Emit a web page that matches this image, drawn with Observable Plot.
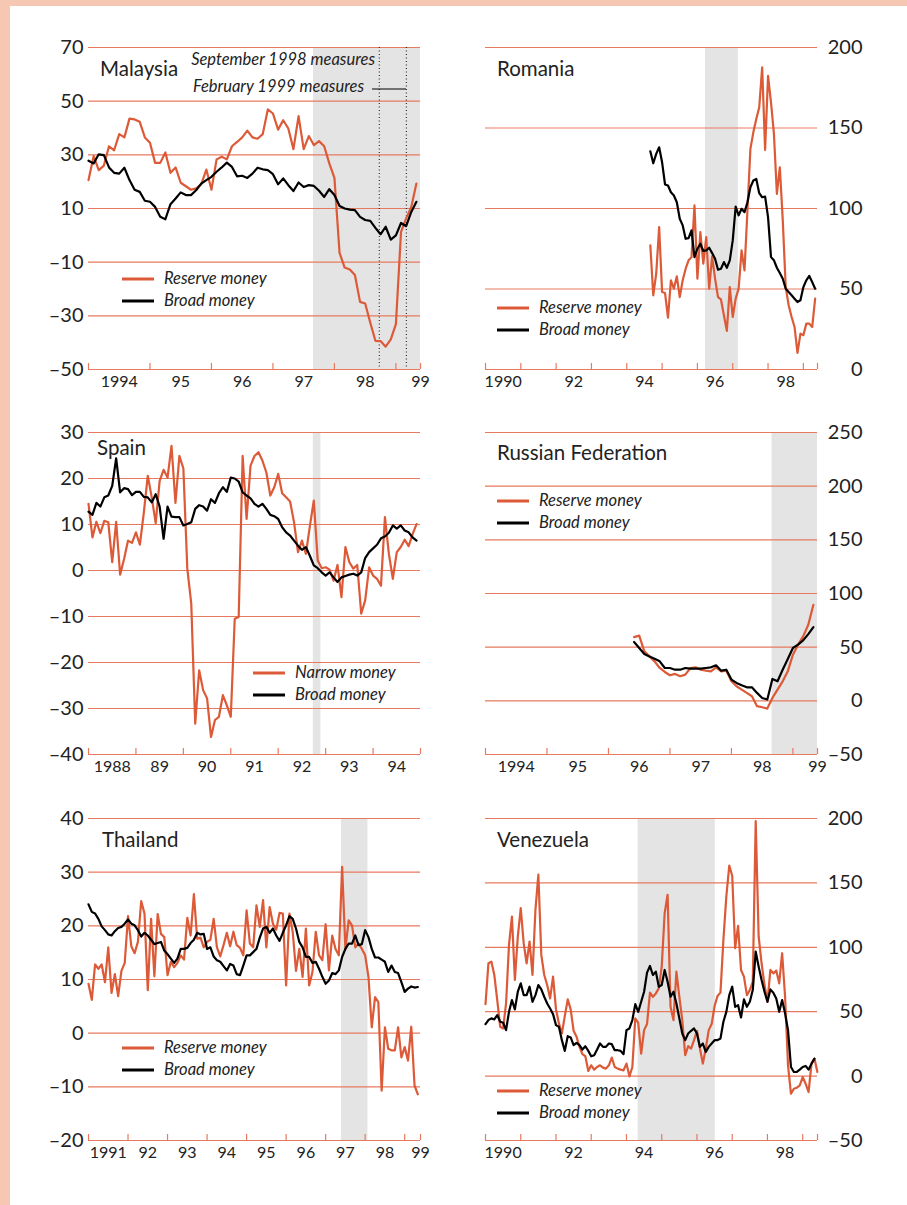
<!DOCTYPE html>
<html><head><meta charset="utf-8">
<script src="https://cdn.jsdelivr.net/npm/d3@7"></script>
<script src="https://cdn.jsdelivr.net/npm/@observablehq/plot@0.6"></script>
<style>
body{margin:0;background:#f6c8b3;width:907px;height:1205px;position:relative;overflow:hidden;font-family:Lato,sans-serif;}
#sheet{position:absolute;left:10px;top:6px;width:897px;height:1199px;background:#fff;}
.panel{position:absolute;}
#overlay{position:absolute;left:0;top:0;}
</style></head><body>
<div id="sheet"></div>
<div id="charts"></div>
<svg id="overlay" width="907" height="1205" xmlns="http://www.w3.org/2000/svg"></svg>
<script>
// ---------- DATA ----------
const malaysiaStart = [1994, 1];
const malaysiaReserve = [20.6,29.5,24.3,26,33.2,31.7,37.7,36.5,43.5,43.2,42.3,36.5,34.5,27,27,30.9,23.3,25.3,19.6,18.3,17,17.5,19,24.5,17,28.3,29.3,28.3,33.2,34.8,36.5,39,36.5,36,37.7,46.9,45.4,39.4,42.9,39.8,32.1,44.4,32.1,37,33.6,35.1,33.2,26.8,21.4,-6.5,-12,-12.7,-14.8,-24.8,-25.4,-32.6,-39.3,-39.4,-41.5,-38.8,-33.1,1.3,6.3,10.6,19.3];
const malaysiaBroad = [27.8,26.8,30.2,29.9,25.3,23.3,23,25.2,20.6,17,16.2,12.9,12.5,10.6,6.9,6,11.6,13.7,16,15,15,16.8,19.3,20.6,21.8,23.7,25.3,27.1,25.5,22,22.2,21.4,23,25.2,24.6,24.3,22.8,19,21.2,18.7,16.5,19.7,18,18.7,18.4,16.6,14.3,17.2,15,10.9,10,9.6,9.4,6.9,5.7,5.4,2.8,0.4,3.2,-1.6,0,4.6,3.4,8.7,12.5];

const romaniaStart = [1994, 9];
const romaniaReserve = [77.1,46.1,59.5,88.4,48.1,47.5,32.2,55.4,50.2,57.9,45,55.4,62.6,67.8,69.8,101.9,56.4,85.3,65.7,82.2,50.2,70.2,56.4,45,43.5,33.7,24,51.2,32.6,44,50.2,74,61.6,98.8,137,147.3,155.6,162.8,187.6,136.4,182.4,165.9,146.3,109.1,125.6,92.6,51.2,39.9,32.6,26.4,10.3,22.3,21.3,28.5,28.5,26.4,44];
const romaniaBroad = [135.5,128.1,133.9,138,128.7,114.9,114.3,110.1,108.1,103.9,93.6,89.5,81.2,81.6,86.4,69.8,75,78.1,73.6,74,75.6,72.3,68.8,62,62.6,66.7,63.2,67.8,80.2,101.2,95.7,99.8,97.7,103.9,113.2,117.4,118.4,109.5,107,107.4,94.6,69.8,67.8,63.2,59.9,56.4,50.2,48.1,46.1,44,41.9,43,51.2,55.4,58.1,54.3,50.2];

const spainStart = [1988, 1];
const spainNarrow = [14.5,7.2,10.6,8.1,10.8,10.5,1.8,10.6,-0.9,2.5,6.5,6,8.3,5.6,12.6,20.6,15.9,10.3,19.5,21.9,20.2,27.1,14.7,24.9,22.2,0.4,-7.2,-33.3,-21.7,-26,-27.8,-36.2,-32.5,-31.8,-27.1,-29.3,-31.8,-10.5,-10.1,24.9,11.2,22.8,24.9,25.7,23.9,21.3,16.3,18.1,21,16.8,15.9,15,10.5,4,6.5,3.6,9.6,15.2,2.2,0.5,0.7,0.2,-2.2,1.2,-5.8,5.1,1.8,0.4,1.2,-9.4,-6.5,0.7,-1.1,-1.8,-3.3,11.6,3.6,-1.8,4,5.1,6.7,5.3,7.9,10.1];
const spainBroad = [12.8,12.1,14.7,13.9,15.9,16.3,18.4,24.4,17,17.9,17.7,16.4,17.1,17.1,16,15.9,14.8,16.6,13.9,6.9,13.9,11.7,11.6,11.6,9.8,10.1,10.5,13.4,14.2,13.9,13,15.5,14.7,16.8,18.1,17.1,20.2,20,19.3,17,16.3,15.7,14.5,13.9,14.5,13.4,12.1,11.8,11.2,9.4,8.3,7.6,6.5,5.4,4.5,5.1,3.2,1.1,0.5,-0.4,-1.1,-0.4,-1.5,-2.5,-1.5,-1.2,-0.9,-0.7,-1.1,-0.4,2.7,4,4.8,5.6,7,7.4,8.2,9.8,9.1,9.8,8.7,8.3,7.2,6.5];

const russiaStart = [1996, 6];
const russiaReserve = [59.4,60.7,46.1,41.4,36.8,30.6,26.9,23.8,25.1,22.9,24.4,30.6,31.2,29,28.1,27.5,31.2,27.5,28.1,18.2,13.6,10.5,7.4,4.3,-5,-6,-7.2,2.7,10.5,18.2,27.5,43,52.3,60,70.9,89.5];
const russiaBroad = [54.8,49.2,43.6,41.4,39.3,36.8,30.6,30.6,29,29,30.6,30,30,30,30.6,31.2,33.1,28.1,29,19.8,16.7,14.5,12.6,12.6,7.4,2.7,1.2,20.4,18.2,29,39,49.2,52.3,56.3,62.2,68.7];

const thailandStart = [1991, 1];
const thailandReserve = [9.2,6.2,12.8,12,12.8,9.5,16,7.5,11,6.9,11.6,13.1,21.8,16.2,14.9,17,24.6,22.3,8,21.3,10.6,22.2,18.5,17.9,10.8,13.3,12.3,13.1,14.5,13.7,21.5,18.2,25.9,17.6,17.8,16,17,17.4,21.3,16,14.3,16.4,18.7,16.2,18.9,16.4,15.9,14.5,22.9,16.7,16,23.8,19.8,24.8,16,23.5,20.4,19.3,22.4,22.3,8.9,22.3,18.9,11.6,15.7,10.5,19.5,8.9,11.4,18.9,14.5,13.6,20.3,11.7,18.2,15.7,14.5,31,15.7,21,20.1,16,16.7,15.7,14.5,10.5,1.1,6.7,5.8,-10.7,1.1,-2.9,-3.2,-3.2,1.1,-4.5,-2.6,-5.1,1.2,-9.8,-11.4];
const thailandBroad = [24,22.6,22.3,21.3,19.9,19.2,18.4,18.2,19,19.6,19.8,20.4,21.2,20.4,20.1,19.2,18,18.7,18.2,17.4,16.6,16.8,17,15.4,14.7,13.9,13.1,13.9,15.7,15.7,15.9,16.8,17.4,18.7,18.4,18.5,15.7,16,14.3,13.6,13.3,12.5,11.7,12.9,12.6,11,10.8,12.6,14.5,14.5,15.1,15.7,17.8,19.5,19.8,18.7,19.5,18.2,17.2,18.7,20.1,21.8,21.3,19.5,17,16,14.2,14.2,13.1,13.3,12,10.5,9.2,9.8,11.2,11,11.7,14.2,15.7,16.7,16.7,18.2,16.4,16.6,19.2,17.9,15.7,14.1,14.1,13.7,13.3,11.4,12.6,11.4,11.2,9.5,7.7,8.3,8.7,8.5,8.6];

const venezuelaStart = [1990, 1];
const venezuelaReserve = [55.9,87.6,88.9,78.5,59,38.3,37,56.4,101.9,123.9,74.6,108.3,130.4,103.2,87.6,104.5,78.5,129.1,156.4,94.1,78.5,70.7,60.3,77.2,51.8,40.9,33.1,46.6,59.6,51.8,35.2,30.5,22.7,17,15.4,4,8.4,5,7.1,8.4,6.6,5.8,8.4,14.4,7.1,5.8,5,4.5,9.7,-0.2,7.1,44.8,41.4,17.5,35.7,40.4,64.8,61.6,64.2,68.1,85,126.5,140.8,53.8,43.5,81.1,61.6,43.5,16.2,23.2,21.4,27.9,35.2,21.4,9.7,21.4,35.7,40.4,54.4,62.2,64.8,105.8,139.5,163.4,155.6,99.3,116.7,82.4,77.2,62.9,66.8,73.3,197.9,108.4,87.6,70.7,57.7,82.4,79.8,81.9,72,95.4,61.6,8.4,-13.7,-9.8,-9,-7.2,-0.7,-5.9,-12.4,9.7,13.6,3.2];
const venezuelaBroad = [40.3,43.5,44.8,44,47.4,42.2,41.4,35.7,49.9,59,51.8,65.5,72,62.9,62.9,69.4,57.7,62.9,70.7,67.3,61.6,56.4,52.5,48.1,39.6,38.3,27.9,19.6,31,30,24,25.8,24,20.6,23.2,19.6,15.4,16.2,20.6,25.3,22.7,22.7,25.3,24.8,20.1,20.1,19.6,17,35.7,37,43.5,55.9,49.9,57.7,65.5,80.3,85.5,78.5,81.1,69.4,70.7,82.4,73.3,61.6,65.5,56.4,44.8,33.1,27.9,33.1,35.2,37,33.1,22.7,25.3,18.8,22.7,25.3,27.9,27.9,29.2,42.2,49.9,62.9,69.4,53.8,55.1,45.5,59.6,53.8,57.7,66.8,96.7,85,74.6,65.5,57.7,67.3,64.8,60.3,49.9,59,48.7,35.7,7.1,3.2,3.2,5,7.1,7.9,5,9.7,13.6];

// ---------- STYLE ----------
const ORANGE = "#dc5a37";
const GRID = "#e77a5e";
const SHADE = "#e4e4e4";
const INK = "#222";
const PLOT_H = 322;

function series(start, values) {
  return values.map((v, i) => ({x: start[0] + (start[1] - 1 + i) / 12, y: v}));
}

function panel(cfg) {
  const left = cfg.side === "left";
  const width = left ? 440 : 467;
  const labelMap = new Map(cfg.labelPos.map((p, i) => [p, cfg.labels[i]]));
  const [y0, y1] = cfg.yDomain;
  const tickTop = y0 + (y1 - y0) * 6 / PLOT_H; // 6px upward tick, derived from the scale domain
  const marks = [
    Plot.rect(cfg.shade, {x1: d => d[0], x2: d => d[1], fill: SHADE}),
    Plot.ruleY(cfg.yTicks, {stroke: GRID, strokeWidth: 1.2}),
    Plot.ruleX(cfg.yearTicks, {x: d => d, y1: y0, y2: tickTop, stroke: GRID, strokeWidth: 1.2}),
    Plot.axisY({anchor: cfg.side, ticks: cfg.yTicks, tickSize: 0, label: null,
      tickPadding: left ? 5 : 45, textAnchor: "end", fontSize: 20, fill: INK,
      tickFormat: d => d < 0 ? "\u2013" + Math.abs(d) : String(d)}),
    Plot.axisX({ticks: cfg.labelPos, tickSize: 0, tickPadding: 6, fontSize: 16, fill: INK, label: null,
      tickFormat: d => labelMap.get(d)})
  ];
  if (cfg.rules) marks.push(Plot.ruleX(cfg.rules, {stroke: INK, strokeWidth: 1.1, strokeDasharray: "1,2.5"}));
  marks.push(Plot.line(series(cfg.start, cfg.reserve), {x: "x", y: "y", stroke: ORANGE, strokeWidth: 2.2, strokeLinejoin: "round"}));
  marks.push(Plot.line(series(cfg.start, cfg.broad), {x: "x", y: "y", stroke: "#000", strokeWidth: 2.2, strokeLinejoin: "round"}));
  const chart = Plot.plot({
    width, height: 20 + PLOT_H + 30,
    marginTop: 20, marginBottom: 30,
    marginLeft: left ? 88 : 45, marginRight: left ? 20 : 90,
    x: {domain: cfg.xDomain},
    y: {domain: cfg.yDomain},
    style: {fontFamily: "Lato, sans-serif", background: "transparent", color: INK, overflow: "visible"},
    marks
  });
  chart.classList.add("panel");
  chart.style.left = (left ? 0 : 440) + "px";
  chart.style.top = (cfg.rowTop - 20) + "px";
  document.getElementById("charts").appendChild(chart);
}

const mYears = [1994,1995,1996,1997,1998,1999,1999.4];
panel({side: "left", rowTop: 47, start: malaysiaStart, reserve: malaysiaReserve, broad: malaysiaBroad,
  xDomain: [1994, 1999.4], yDomain: [-50, 70], yTicks: [-50,-30,-10,10,30,50,70],
  yearTicks: mYears, labelPos: [1994.5,1995.5,1996.5,1997.5,1998.5,1999.4], labels: ["1994","95","96","97","98","99"],
  shade: [[1997.66, 1999.4]], rules: [1998.73, 1999.17]});

panel({side: "right", rowTop: 47, start: romaniaStart, reserve: romaniaReserve, broad: romaniaBroad,
  xDomain: [1990, 1999.4], yDomain: [0, 200], yTicks: [0,50,100,150,200],
  yearTicks: [1990,1991,1992,1993,1994,1995,1996,1997,1998,1999,1999.4],
  labelPos: [1990.5,1992.5,1994.5,1996.5,1998.5], labels: ["1990","92","94","96","98"],
  shade: [[1996.23, 1997.16]]});

panel({side: "left", rowTop: 432, start: spainStart, reserve: spainNarrow, broad: spainBroad,
  xDomain: [1988, 1995], yDomain: [-40, 30], yTicks: [-40,-30,-20,-10,0,10,20,30],
  yearTicks: [1988,1989,1990,1991,1992,1993,1994,1995],
  labelPos: [1988.5,1989.5,1990.5,1991.5,1992.5,1993.5,1994.5], labels: ["1988","89","90","91","92","93","94"],
  shade: [[1992.74, 1992.9]]});

panel({side: "right", rowTop: 432, start: russiaStart, reserve: russiaReserve, broad: russiaBroad,
  xDomain: [1994, 1999.4], yDomain: [-50, 250], yTicks: [-50,0,50,100,150,200,250],
  yearTicks: mYears, labelPos: [1994.5,1995.5,1996.5,1997.5,1998.5,1999.4], labels: ["1994","95","96","97","98","99"],
  shade: [[1998.66, 1999.4]]});

panel({side: "left", rowTop: 818, start: thailandStart, reserve: thailandReserve, broad: thailandBroad,
  xDomain: [1991, 1999.4], yDomain: [-20, 40], yTicks: [-20,-10,0,10,20,30,40],
  yearTicks: [1991,1992,1993,1994,1995,1996,1997,1998,1999,1999.4],
  labelPos: [1991.5,1992.5,1993.5,1994.5,1995.5,1996.5,1997.5,1998.5,1999.4], labels: ["1991","92","93","94","95","96","97","98","99"],
  shade: [[1997.4, 1998.07]]});

panel({side: "right", rowTop: 818, start: venezuelaStart, reserve: venezuelaReserve, broad: venezuelaBroad,
  xDomain: [1990, 1999.42], yDomain: [-50, 200], yTicks: [-50,0,50,100,150,200],
  yearTicks: [1990,1991,1992,1993,1994,1995,1996,1997,1998,1999,1999.42],
  labelPos: [1990.5,1992.5,1994.5,1996.5,1998.5], labels: ["1990","92","94","96","98"],
  shade: [[1994.33, 1996.52]]});

// ---------- TITLES, LEGENDS, NOTES ----------
const titles = [["Malaysia",100,76],["Romania",497,76],["Spain",97,455],["Russian Federation",497,460],["Thailand",102,847],["Venezuela",497,847]];
const legends = [
  [122,279,"Reserve money","Broad money"],
  [497,308,"Reserve money","Broad money"],
  [253,673,"Narrow money","Broad money"],
  [497,501,"Reserve money","Broad money"],
  [122,1048,"Reserve money","Broad money"],
  [497,1091,"Reserve money","Broad money"]
];
const ov = d3.select("#overlay");
titles.forEach(([t,x,y]) => ov.append("text").attr("x",x).attr("y",y).attr("font-family","Lato, sans-serif").attr("font-size",20.5).attr("fill",INK).text(t));
legends.forEach(([x,y,a,b]) => {
  [[a,ORANGE,0],[b,"#000",22]].forEach(([t,c,o]) => {
    ov.append("line").attr("x1",x).attr("x2",x+32).attr("y1",y+o).attr("y2",y+o).attr("stroke",c).attr("stroke-width",3);
    ov.append("text").attr("x",x+42).attr("y",y+o+5).attr("font-family","Lato, sans-serif").attr("font-style","italic").attr("font-size",16.5).attr("fill",INK).text(t);
  });
});
ov.append("text").attr("x",375).attr("y",65).attr("text-anchor","end").attr("font-family","Lato, sans-serif").attr("font-style","italic").attr("font-size",16.5).attr("fill",INK).text("September 1998 measures");
ov.append("text").attr("x",364).attr("y",92).attr("text-anchor","end").attr("font-family","Lato, sans-serif").attr("font-style","italic").attr("font-size",16.5).attr("fill",INK).text("February 1999 measures");
ov.append("line").attr("x1",372).attr("x2",406).attr("y1",89).attr("y2",89).attr("stroke","#000").attr("stroke-width",1.2);
</script>
</body></html>
